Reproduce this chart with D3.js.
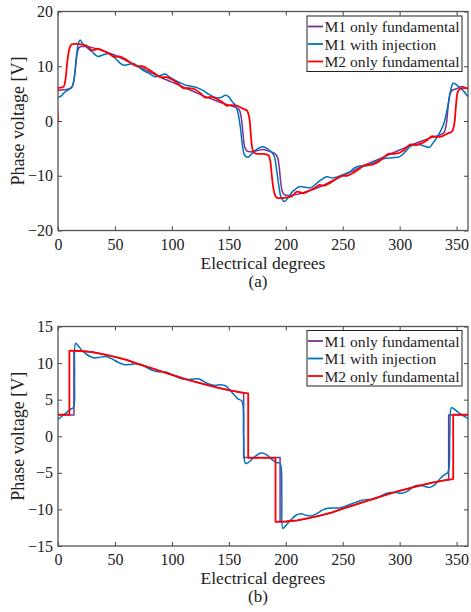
<!DOCTYPE html>
<html>
<head>
<meta charset="utf-8">
<script src="https://cdn.jsdelivr.net/npm/d3@7"></script>
<style>
  body { margin: 0; background: #fff; }
  svg text { font-family: "Liberation Serif", "Times New Roman", serif; fill: #222; }
</style>
</head>
<body>
<script>
// x axis (electrical degrees) shared by both panels
var xTicks = [0, 50, 100, 150, 200, 250, 300, 350];
var yTicksA = [-20, -10, 0, 10, 20];
var yTicksB = [-15, -10, -5, 0, 5, 10, 15];
var seriesNames = ["M1 only fundamental", "M1 with injection", "M2 only fundamental"];
var seriesColors = ["#7E2F8E", "#0072BD", "#FF0000"];

// panel (a): [degree, volts]
var aM1Fund = [[0,5.6],[5,5.7],[10,5.9],[12.5,6.3],[14,7.5],[15.5,10],[17,12.5],[18.5,13.4],[21,13.6],[25,13.6],[30,13.4],
  [40,12.8],[50,12.0],[60,11.0],[70,10.0],[80,9.0],[90,8.0],[100,7.1],[110,6.2],[120,5.3],[130,4.4],[140,3.6],
  [150,2.9],[156,2.5],[159,2.1],[161,0.5],[162.5,-2.5],[164,-4.8],[166,-5.5],[170,-5.6],[175,-5.4],[180,-5.2],
  [185,-5.5],[190,-5.9],[192.5,-6.5],[194,-8],[195.5,-11],[197,-12.9],[199,-13.5],[203,-13.6],[210,-13.4],
  [220,-12.8],[230,-12.0],[240,-11.0],[250,-10.0],[260,-9.0],[270,-8.0],[280,-7.1],[290,-6.2],[300,-5.3],
  [310,-4.4],[320,-3.6],[330,-2.9],[336,-2.5],[339,-2.1],[341,-0.5],[342.5,2.5],[344,4.8],[346,5.6],[350,5.9],
  [355,6.3],[360,5.8]];
var aM1Inj = [[0,4.3],[3,4.6],[6,5.3],[9,5.7],[12,6.1],[14,7.5],[16,11.5],[18,14.3],[19.5,14.8],[22,14.0],[25,13.5],
  [30,12.6],[35,11.8],[40,12.1],[45,12.3],[50,11.5],[55,10.5],[58,10.2],[62,10.3],[66,10.5],[70,10.0],[75,9.2],
  [80,8.7],[85,8.1],[90,8.3],[94,8.6],[98,8.0],[103,7.4],[108,6.9],[113,6.5],[118,6.3],[123,6.0],[128,5.5],
  [133,4.8],[138,4.3],[143,4.3],[147,4.7],[150,4.4],[153,3.5],[156,2.8],[158,1.5],[160,-1],[162,-4.5],[164,-6.3],
  [167,-6.6],[170,-6.0],[175,-5.1],[180,-4.7],[184,-5.1],[188,-5.8],[190,-6.5],[192,-9],[194,-12],[196,-14],
  [199,-14.7],[202,-14.0],[206,-12.9],[212,-12.0],[217,-12.1],[222,-12.2],[227,-11.4],[232,-10.6],[236,-10.2],
  [241,-10.4],[245,-10.2],[250,-9.8],[256,-9.3],[260,-8.6],[265,-8.2],[270,-8.2],[276,-7.8],[282,-7.1],[288,-6.8],
  [294,-6.7],[300,-6.5],[305,-5.6],[309,-4.7],[312,-4.4],[317,-4.3],[322,-4.6],[326,-4.8],[330,-3.8],[333,-2.9],
  [336,-1.8],[339,-0.3],[341,1.4],[343,3.5],[345,5.8],[347,6.9],[350,6.6],[353,6.0],[356,5.5],[360,4.4]];
var aM2Fund = [[0,0],[0.3,6.0],[3,6.1],[5,6.3],[6.5,7.5],[8,10.5],[10,13.2],[12,14.0],[16,14.1],[20,14.0],[25,13.8],
  [30,12.9],[35,13.2],[40,12.8],[45,12.3],[49,11.7],[54,11.8],[59,11.3],[64,10.6],[69,10.0],[74,10.0],[79,9.5],
  [84,8.8],[90,8.0],[95,8.0],[100,7.6],[105,6.9],[110,6.0],[115,6.0],[120,5.8],[125,5.1],[129,4.3],[134,4.4],
  [139,4.1],[144,3.5],[148,2.8],[152,2.9],[157,2.8],[162,2.3],[166,1.9],[168,0.5],[169.5,-3],[171,-5.3],[173,-5.9],
  [176,-6.0],[180,-6.0],[183,-6.1],[185,-6.3],[186.5,-7.5],[188,-10.5],[190,-13.2],[192,-14.0],[196,-14.1],
  [200,-14.0],[205,-13.8],[210,-12.9],[215,-13.2],[220,-12.8],[225,-12.3],[229,-11.7],[234,-11.8],[239,-11.3],
  [244,-10.6],[249,-10.0],[254,-10.0],[259,-9.5],[264,-8.8],[270,-8.0],[275,-8.0],[280,-7.6],[285,-6.9],[290,-6.0],
  [295,-6.0],[300,-5.8],[305,-5.1],[309,-4.3],[314,-4.4],[319,-4.1],[324,-3.5],[328,-2.8],[332,-2.9],[337,-2.8],
  [342,-2.3],[346,-1.9],[348,-0.5],[349.5,3],[351,5.3],[353,5.9],[356,6.0],[360,6.0]];

// panel (b): [degree, volts]
var bM1Fund = [[0,2.9],[14,2.9],[14,11.7],[20,11.65],[30,11.5],[40,11.2],[50,10.85],[60,10.45],[70,9.9],[80,9.4],
  [90,8.9],[100,8.4],[110,7.9],[120,7.45],[130,7.05],[140,6.65],[150,6.3],[163,5.95],[163,-2.9],[195,-2.9],
  [195,-11.7],[200,-11.65],[210,-11.5],[220,-11.2],[230,-10.85],[240,-10.45],[250,-9.9],[260,-9.4],[270,-8.9],
  [280,-8.4],[290,-7.9],[300,-7.45],[310,-7.05],[320,-6.65],[330,-6.3],[343,-5.95],[343,2.9],[360,2.9]];
var bM1Inj = [[0,2.3],[4,2.8],[8,3.3],[11,3.7],[13.5,3.9],[14.5,8],[15.5,12.7],[18,12.3],[22,11.6],[27,11.0],
  [32,10.7],[37,10.8],[42,10.9],[47,10.6],[53,10.1],[58,9.8],[63,9.8],[68,9.9],[73,9.8],[78,9.4],[83,9.0],[88,8.8],
  [93,8.8],[98,8.6],[103,8.2],[108,7.9],[113,7.75],[118,7.8],[123,7.85],[128,7.5],[133,7.1],[138,6.95],[143,7.05],
  [147,6.9],[151,6.3],[155,5.6],[158,5.1],[161.5,4.8],[163,0],[164.5,-3.7],[167,-3.6],[172,-2.9],[178,-2.3],
  [183,-2.5],[188,-3.2],[192,-3.6],[195,-3.7],[196.5,-8],[197.5,-12.6],[200,-12.2],[204,-11.5],[209,-10.8],
  [213,-10.6],[218,-10.8],[222,-10.9],[227,-10.6],[232,-10.1],[237,-9.85],[242,-9.8],[247,-9.8],[252,-9.6],
  [257,-9.3],[262,-9.0],[267,-8.75],[272,-8.65],[277,-8.6],[282,-8.3],[287,-7.9],[292,-7.7],[297,-7.7],[302,-7.8],
  [307,-7.5],[312,-6.9],[316,-6.7],[321,-6.8],[326,-7.0],[331,-6.6],[336,-5.7],[340,-5.2],[342.5,-4.9],[344,0],
  [345.5,3.9],[348,3.7],[352,3.2],[356,2.8],[360,2.4]];
var bM2Fund = [[0,2.95],[10,2.95],[10,11.7],[20,11.65],[30,11.5],[40,11.2],[50,10.85],[60,10.45],[70,9.9],[80,9.4],
  [90,8.9],[100,8.4],[110,7.9],[120,7.45],[130,7.05],[140,6.65],[150,6.3],[160,6.0],[167,5.85],[167,-2.95],
  [191,-2.95],[191,-11.7],[200,-11.65],[210,-11.5],[220,-11.2],[230,-10.85],[240,-10.45],[250,-9.9],[260,-9.4],
  [270,-8.9],[280,-8.4],[290,-7.9],[300,-7.45],[310,-7.05],[320,-6.65],[330,-6.3],[340,-6.0],[347,-5.85],
  [347,2.95],[360,2.95]];

var svg = d3.select("body").append("svg")
    .attr("width", 471)
    .attr("height", 612);

var xRange = [58, 468];

function drawPanel(p) {
    var x = d3.scaleLinear().domain([0, 360]).range(xRange);
    var y = d3.scaleLinear().domain(p.yDomain).range([p.bottom, p.top]);
    var g = svg.append("g");

    // clip so the traces stay inside the box
    g.append("clipPath").attr("id", p.id)
      .append("rect")
        .attr("x", xRange[0]).attr("y", p.top)
        .attr("width", xRange[1] - xRange[0]).attr("height", p.bottom - p.top);

    // axes, MATLAB style: ticks pointing in on all four sides
    var bottomAxis = g.append("g")
        .attr("transform", "translate(0," + p.bottom + ")")
        .call(d3.axisBottom(x).tickValues(xTicks).tickSizeInner(-4).tickSizeOuter(0).tickPadding(8));
    var leftAxis = g.append("g")
        .attr("transform", "translate(" + xRange[0] + ",0)")
        .call(d3.axisLeft(y).tickValues(p.yTicks).tickSizeInner(-4).tickSizeOuter(0).tickPadding(5));
    g.append("g")
        .attr("transform", "translate(0," + p.top + ")")
        .call(d3.axisTop(x).tickValues(xTicks).tickSizeInner(-4).tickSizeOuter(0).tickFormat(""));
    g.append("g")
        .attr("transform", "translate(" + xRange[1] + ",0)")
        .call(d3.axisRight(y).tickValues(p.yTicks).tickSizeInner(-4).tickSizeOuter(0).tickFormat(""));

    g.selectAll(".domain").remove();
    g.selectAll(".tick line").attr("stroke", "#444").attr("stroke-width", 1);
    [bottomAxis, leftAxis].forEach(function(a) {
        a.selectAll("text").attr("font-size", "16px").attr("fill", "#222")
          .style("font-family", "'Liberation Serif', 'Times New Roman', serif");
    });

    g.append("rect")
        .attr("x", xRange[0]).attr("y", p.top)
        .attr("width", xRange[1] - xRange[0]).attr("height", p.bottom - p.top)
        .attr("fill", "none").attr("stroke", "#555").attr("stroke-width", 1.3);

    // traces
    var lines = g.append("g").attr("clip-path", "url(#" + p.id + ")");
    p.series.forEach(function(s, i) {
        var line = d3.line()
            .x(function(d) { return x(d[0]); })
            .y(function(d) { return y(d[1]); })
            .curve(s.smooth ? d3.curveCatmullRom.alpha(0.5) : d3.curveLinear);
        lines.append("path")
            .datum(s.data)
            .attr("fill", "none")
            .attr("stroke", seriesColors[i])
            .attr("stroke-width", i == 2 ? 1.8 : 1.5)
            .attr("stroke-linejoin", "round")
            .attr("d", line);
    });

    // legend
    var lg = g.append("g");
    lg.append("rect")
        .attr("x", 307).attr("y", p.legendTop)
        .attr("width", 155).attr("height", 55.5)
        .attr("fill", "#fff").attr("stroke", "#222").attr("stroke-width", 1);
    seriesNames.forEach(function(name, i) {
        var ly = p.legendTop + 10.5 + i * 17.5;
        lg.append("line")
            .attr("x1", 308).attr("x2", 323)
            .attr("y1", ly).attr("y2", ly)
            .attr("stroke", seriesColors[i]).attr("stroke-width", 1.8);
        lg.append("text")
            .attr("x", 324.5).attr("y", ly + 5.5)
            .attr("font-size", "15.6px")
            .text(name);
    });

    // axis titles
    var cx = (xRange[0] + xRange[1]) / 2;
    g.append("text")
        .attr("x", cx).attr("y", p.bottom + 38)
        .attr("text-anchor", "middle")
        .attr("font-size", "17.5px")
        .text("Electrical degrees");
    g.append("text")
        .attr("x", cx - 5).attr("y", p.bottom + 56)
        .attr("text-anchor", "middle")
        .attr("font-size", "17px")
        .text(p.tag);
    g.append("text")
        .attr("transform", "translate(24," + ((p.top + p.bottom) / 2) + ") rotate(-90)")
        .attr("text-anchor", "middle")
        .attr("font-size", "18px")
        .text("Phase voltage [V]");
}

drawPanel({
    id: "clipA", top: 11.5, bottom: 230.5, yDomain: [-20, 20], yTicks: yTicksA,
    legendTop: 16, tag: "(a)",
    series: [{data: aM1Fund, smooth: true}, {data: aM1Inj, smooth: true}, {data: aM2Fund, smooth: true}]
});

drawPanel({
    id: "clipB", top: 326.5, bottom: 546, yDomain: [-15, 15], yTicks: yTicksB,
    legendTop: 330.5, tag: "(b)",
    series: [{data: bM1Fund, smooth: false}, {data: bM1Inj, smooth: true}, {data: bM2Fund, smooth: false}]
});
</script>
</body>
</html>
